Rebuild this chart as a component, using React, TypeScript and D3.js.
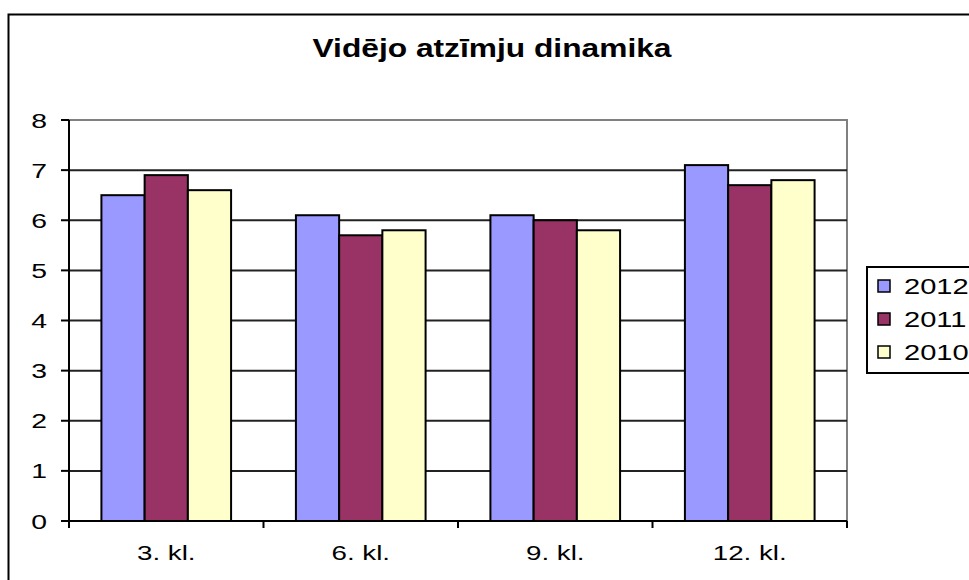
import React from 'react';
import * as d3 from 'd3';

const categories = ['3. kl.', '6. kl.', '9. kl.', '12. kl.'];
const seriesNames = ['2012', '2011', '2010'];
const values2012 = [6.5, 6.1, 6.1, 7.1];
const values2011 = [6.9, 5.7, 6.0, 6.7];
const values2010 = [6.6, 5.8, 5.8, 6.8];
const seriesColors = ['#9999ff', '#993366', '#ffffcc'];
const yTicks = [0, 1, 2, 3, 4, 5, 6, 7, 8];

const W = 969, H = 580;
const plot = { left: 69, right: 847, top: 120, bottom: 521 };
const font = '"Liberation Sans", Arial, sans-serif';

// the original picture is stretched sideways, so text is widened around its anchor
const Txt: React.FC<{ x: number; y: number; sx: number; size: number; anchor?: string; bold?: boolean; children: React.ReactNode }> =
  ({ x, y, sx, size, anchor = 'start', bold, children }) => (
    <text transform={`translate(${x},${y}) scale(${sx},1)`} textAnchor={anchor}
          fontFamily={font} fontSize={size} fontWeight={bold ? 'bold' : 'normal'}>
      {children}
    </text>
  );

const App: React.FC = () => {
  const series = [values2012, values2011, values2010];

  const x = d3.scaleBand<string>()
    .domain(categories)
    .range([plot.left, plot.right]);
  // gap width 150% => bar width = band / (3 + 1.5)
  const barW = x.bandwidth() / (series.length + 1.5);
  const y = d3.scaleLinear().domain([0, 8]).range([plot.bottom, plot.top]);

  return (
    <svg width={W} height={H} style={{ position: 'absolute', left: 0, top: 0, background: '#fff' }}>
      {/* chart border */}
      <rect x={8.5} y={14.5} width={W + 20} height={H + 20} fill="#fff" stroke="#000" strokeWidth={2} />

      <Txt x={492} y={57} sx={1.22} size={26} anchor="middle" bold>Vidējo atzīmju dinamika</Txt>

      {/* plot area border */}
      <rect x={plot.left} y={plot.top} width={plot.right - plot.left} height={plot.bottom - plot.top}
            fill="#fff" stroke="#808080" strokeWidth={2} />

      {/* gridlines */}
      {yTicks.filter(t => t > 0 && t < 8).map(t => (
        <line key={t} x1={plot.left} x2={plot.right} y1={y(t)} y2={y(t)} stroke="#222" strokeWidth={2} />
      ))}

      {/* bars */}
      {categories.map((c, i) => {
        const x0 = x(c)! + barW * 0.75;
        return series.map((s, j) => (
          <rect key={c + j} x={x0 + j * barW} y={y(s[i])} width={barW} height={y(0) - y(s[i])}
                fill={seriesColors[j]} stroke="#000" strokeWidth={2} />
        ));
      })}

      {/* y axis */}
      <line x1={plot.left} x2={plot.left} y1={plot.top} y2={plot.bottom + 7} stroke="#000" strokeWidth={2} />
      {yTicks.map(t => (
        <g key={t}>
          <line x1={plot.left - 8} x2={plot.left} y1={y(t)} y2={y(t)} stroke="#000" strokeWidth={2} />
          <Txt x={47} y={y(t) + 7.5} sx={1.35} size={21} anchor="end">{t}</Txt>
        </g>
      ))}

      {/* x axis */}
      <line x1={plot.left} x2={plot.right} y1={plot.bottom} y2={plot.bottom} stroke="#000" strokeWidth={2} />
      {categories.map(c => (
        <g key={c}>
          <line x1={x(c)! + x.bandwidth()} x2={x(c)! + x.bandwidth()} y1={plot.bottom} y2={plot.bottom + 7}
                stroke="#000" strokeWidth={2} />
          <Txt x={x(c)! + x.bandwidth() / 2} y={560} sx={1.32} size={21} anchor="middle">{c}</Txt>
        </g>
      ))}

      {/* legend */}
      <rect x={867} y={267} width={120} height={106} fill="#fff" stroke="#000" strokeWidth={2} />
      {seriesNames.map((n, j) => (
        <g key={n}>
          <rect x={878} y={280 + j * 33} width={12} height={12} fill={seriesColors[j]} stroke="#000" strokeWidth={1.5} />
          <Txt x={904} y={294 + j * 33} sx={1.32} size={22}>{n}</Txt>
        </g>
      ))}
    </svg>
  );
};

export default App;
